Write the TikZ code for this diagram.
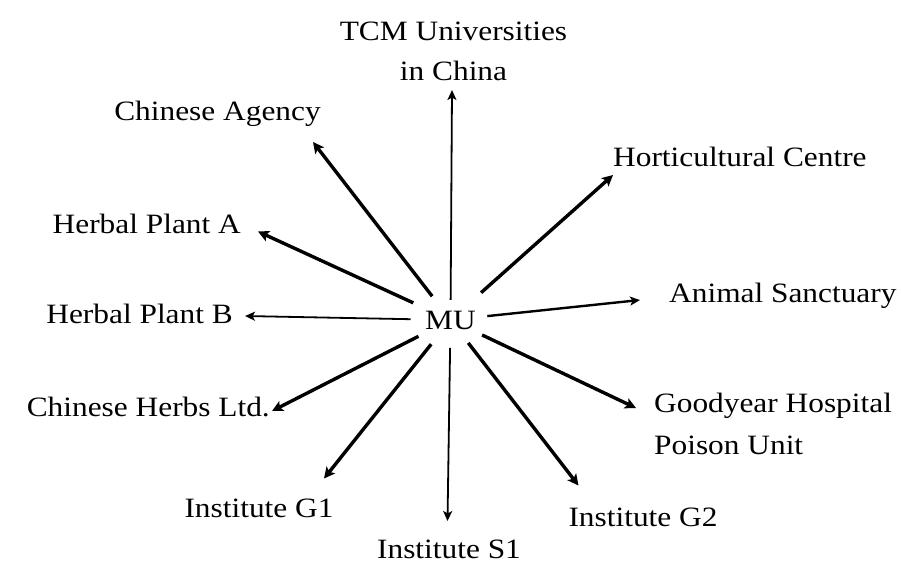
\documentclass[tikz,border=0pt]{standalone}
\usepackage{fontspec}
\setmainfont{Liberation Serif}[FakeStretch=1.12]
\usetikzlibrary{arrows.meta}
\begin{document}
\begin{tikzpicture}[x=1pt,y=-1pt,
  lbl/.style={inner sep=0pt, font=\fontsize{28}{40}\selectfont},
  heavyarr/.style={line width=3.4pt, -{Stealth[length=11pt,width=11pt,inset=2.5pt]}},
  lightarr/.style={line width=1.8pt, -{Stealth[length=10pt,width=9pt,inset=2.5pt]}}]
\useasboundingbox (0,0) rectangle (901,566);

% centre
\node[lbl, anchor=base] (mu) at (450.5,329) {MU};

% surrounding partners
\node[lbl, anchor=north, align=center] (tcm) at (453.5,21.5) {TCM Universities\\in China};
\node[lbl, anchor=base] (agency) at (217.5,120) {Chinese Agency};
\node[lbl, anchor=base west] (hort) at (613,166) {Horticultural Centre};
\node[lbl, anchor=base east] (plantA) at (241,233) {Herbal Plant A};
\node[lbl, anchor=base west] (animal) at (669,302) {Animal Sanctuary};
\node[lbl, anchor=base east] (plantB) at (233,323) {Herbal Plant B};
\node[lbl, anchor=base east] (herbs) at (270,416) {Chinese Herbs Ltd.};
\node[lbl, anchor=north west, align=left, font=\fontsize{28}{42}\selectfont] (goodyear) at (654,393) {Goodyear Hospital\\Poison Unit};
\node[lbl, anchor=base] (g1) at (259,517) {Institute G1};
\node[lbl, anchor=base] (g2) at (643,526) {Institute G2};
\node[lbl, anchor=base] (s1) at (449,558) {Institute S1};

% arrow tips
\coordinate (e-tcm) at (452,90);
\coordinate (e-agency) at (313,142);
\coordinate (e-plantA) at (258,231.5);
\coordinate (e-plantB) at (245,316);
\coordinate (e-herbs) at (272,411);
\coordinate (e-g1) at (324,478.5);
\coordinate (e-s1) at (447.5,521);
\coordinate (e-g2) at (578.5,485.5);
\coordinate (e-good) at (636,408);
\coordinate (e-animal) at (640,300);
\coordinate (e-hort) at (613,175);

% connectors radiating from MU
\draw[lightarr, shorten <=20pt] (mu.center) -- (e-tcm);
\draw[heavyarr, shorten <=30pt] (mu.center) -- (e-agency);
\draw[heavyarr, shorten <=41pt] (mu.center) -- (e-plantA);
\draw[lightarr, shorten <=40pt] (mu.center) -- (e-plantB);
\draw[heavyarr, shorten <=36pt] (mu.center) -- (e-herbs);
\draw[heavyarr, shorten <=31pt] (mu.center) -- (e-g1);
\draw[lightarr, shorten <=28pt] (mu.center) -- (e-s1);
\draw[heavyarr, shorten <=29pt] (mu.center) -- (e-g2);
\draw[heavyarr, shorten <=35pt] (mu.center) -- (e-good);
\draw[lightarr, line width=2.4pt, shorten <=37pt] (mu.center) -- (e-animal);
\draw[heavyarr, shorten <=41pt] (mu.center) -- (e-hort);
\end{tikzpicture}
\end{document}
